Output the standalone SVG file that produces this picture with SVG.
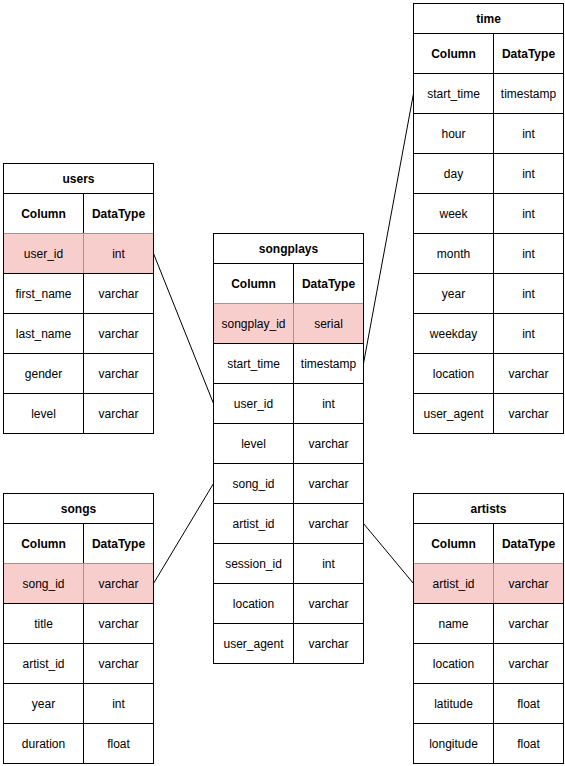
<svg xmlns="http://www.w3.org/2000/svg" width="565" height="766" viewBox="0 0 565 766">
<style>
rect{fill:#fff;stroke:#000;stroke-width:1}
rect.pk{fill:#f8cecc;stroke:#b0908e}
rect.ol{fill:none;stroke:#000}
text{font-family:"Liberation Sans",Arial,sans-serif;font-size:12px;text-anchor:middle;fill:#000}
text.b{font-weight:bold}
line{stroke:#000;stroke-width:1}
</style>
<rect x="0" y="0" width="565" height="766" style="fill:#fff;stroke:none"/>
<g id="connectors">
<line x1="153.5" y1="253.5" x2="213.5" y2="403.5"/>
<line x1="153.5" y1="583.5" x2="213.5" y2="483.5"/>
<line x1="363.5" y1="363.5" x2="413.5" y2="93.5"/>
<line x1="363.5" y1="523.5" x2="413.5" y2="583.5"/>
</g>
<g id="users" transform="translate(3.5,163.5)">
<rect x="0" y="0" width="150" height="30"/><text class="b" x="75" y="19">users</text>
<rect x="0" y="30" width="80" height="40"/><rect x="80" y="30" width="70" height="40"/>
<text class="b" x="40" y="54">Column</text><text class="b" x="115" y="54">DataType</text>
<rect class="pk" x="0" y="70" width="80" height="40"/><rect class="pk" x="80" y="70" width="70" height="40"/>
<text x="40" y="94">user_id</text><text x="115" y="94">int</text>
<rect x="0" y="110" width="80" height="40"/><rect x="80" y="110" width="70" height="40"/>
<text x="40" y="134">first_name</text><text x="115" y="134">varchar</text>
<rect x="0" y="150" width="80" height="40"/><rect x="80" y="150" width="70" height="40"/>
<text x="40" y="174">last_name</text><text x="115" y="174">varchar</text>
<rect x="0" y="190" width="80" height="40"/><rect x="80" y="190" width="70" height="40"/>
<text x="40" y="214">gender</text><text x="115" y="214">varchar</text>
<rect x="0" y="230" width="80" height="40"/><rect x="80" y="230" width="70" height="40"/>
<text x="40" y="254">level</text><text x="115" y="254">varchar</text>
<rect class="ol" x="0" y="0" width="150" height="270"/>
</g>
<g id="songplays" transform="translate(213.5,233.5)">
<rect x="0" y="0" width="150" height="30"/><text class="b" x="75" y="19">songplays</text>
<rect x="0" y="30" width="80" height="40"/><rect x="80" y="30" width="70" height="40"/>
<text class="b" x="40" y="54">Column</text><text class="b" x="115" y="54">DataType</text>
<rect class="pk" x="0" y="70" width="80" height="40"/><rect class="pk" x="80" y="70" width="70" height="40"/>
<text x="40" y="94">songplay_id</text><text x="115" y="94">serial</text>
<rect x="0" y="110" width="80" height="40"/><rect x="80" y="110" width="70" height="40"/>
<text x="40" y="134">start_time</text><text x="115" y="134">timestamp</text>
<rect x="0" y="150" width="80" height="40"/><rect x="80" y="150" width="70" height="40"/>
<text x="40" y="174">user_id</text><text x="115" y="174">int</text>
<rect x="0" y="190" width="80" height="40"/><rect x="80" y="190" width="70" height="40"/>
<text x="40" y="214">level</text><text x="115" y="214">varchar</text>
<rect x="0" y="230" width="80" height="40"/><rect x="80" y="230" width="70" height="40"/>
<text x="40" y="254">song_id</text><text x="115" y="254">varchar</text>
<rect x="0" y="270" width="80" height="40"/><rect x="80" y="270" width="70" height="40"/>
<text x="40" y="294">artist_id</text><text x="115" y="294">varchar</text>
<rect x="0" y="310" width="80" height="40"/><rect x="80" y="310" width="70" height="40"/>
<text x="40" y="334">session_id</text><text x="115" y="334">int</text>
<rect x="0" y="350" width="80" height="40"/><rect x="80" y="350" width="70" height="40"/>
<text x="40" y="374">location</text><text x="115" y="374">varchar</text>
<rect x="0" y="390" width="80" height="40"/><rect x="80" y="390" width="70" height="40"/>
<text x="40" y="414">user_agent</text><text x="115" y="414">varchar</text>
<rect class="ol" x="0" y="0" width="150" height="430"/>
</g>
<g id="time" transform="translate(413.5,3.5)">
<rect x="0" y="0" width="150" height="30"/><text class="b" x="75" y="19">time</text>
<rect x="0" y="30" width="80" height="40"/><rect x="80" y="30" width="70" height="40"/>
<text class="b" x="40" y="54">Column</text><text class="b" x="115" y="54">DataType</text>
<rect x="0" y="70" width="80" height="40"/><rect x="80" y="70" width="70" height="40"/>
<text x="40" y="94">start_time</text><text x="115" y="94">timestamp</text>
<rect x="0" y="110" width="80" height="40"/><rect x="80" y="110" width="70" height="40"/>
<text x="40" y="134">hour</text><text x="115" y="134">int</text>
<rect x="0" y="150" width="80" height="40"/><rect x="80" y="150" width="70" height="40"/>
<text x="40" y="174">day</text><text x="115" y="174">int</text>
<rect x="0" y="190" width="80" height="40"/><rect x="80" y="190" width="70" height="40"/>
<text x="40" y="214">week</text><text x="115" y="214">int</text>
<rect x="0" y="230" width="80" height="40"/><rect x="80" y="230" width="70" height="40"/>
<text x="40" y="254">month</text><text x="115" y="254">int</text>
<rect x="0" y="270" width="80" height="40"/><rect x="80" y="270" width="70" height="40"/>
<text x="40" y="294">year</text><text x="115" y="294">int</text>
<rect x="0" y="310" width="80" height="40"/><rect x="80" y="310" width="70" height="40"/>
<text x="40" y="334">weekday</text><text x="115" y="334">int</text>
<rect x="0" y="350" width="80" height="40"/><rect x="80" y="350" width="70" height="40"/>
<text x="40" y="374">location</text><text x="115" y="374">varchar</text>
<rect x="0" y="390" width="80" height="40"/><rect x="80" y="390" width="70" height="40"/>
<text x="40" y="414">user_agent</text><text x="115" y="414">varchar</text>
<rect class="ol" x="0" y="0" width="150" height="430"/>
</g>
<g id="songs" transform="translate(3.5,493.5)">
<rect x="0" y="0" width="150" height="30"/><text class="b" x="75" y="19">songs</text>
<rect x="0" y="30" width="80" height="40"/><rect x="80" y="30" width="70" height="40"/>
<text class="b" x="40" y="54">Column</text><text class="b" x="115" y="54">DataType</text>
<rect class="pk" x="0" y="70" width="80" height="40"/><rect class="pk" x="80" y="70" width="70" height="40"/>
<text x="40" y="94">song_id</text><text x="115" y="94">varchar</text>
<rect x="0" y="110" width="80" height="40"/><rect x="80" y="110" width="70" height="40"/>
<text x="40" y="134">title</text><text x="115" y="134">varchar</text>
<rect x="0" y="150" width="80" height="40"/><rect x="80" y="150" width="70" height="40"/>
<text x="40" y="174">artist_id</text><text x="115" y="174">varchar</text>
<rect x="0" y="190" width="80" height="40"/><rect x="80" y="190" width="70" height="40"/>
<text x="40" y="214">year</text><text x="115" y="214">int</text>
<rect x="0" y="230" width="80" height="40"/><rect x="80" y="230" width="70" height="40"/>
<text x="40" y="254">duration</text><text x="115" y="254">float</text>
<rect class="ol" x="0" y="0" width="150" height="270"/>
</g>
<g id="artists" transform="translate(413.5,493.5)">
<rect x="0" y="0" width="150" height="30"/><text class="b" x="75" y="19">artists</text>
<rect x="0" y="30" width="80" height="40"/><rect x="80" y="30" width="70" height="40"/>
<text class="b" x="40" y="54">Column</text><text class="b" x="115" y="54">DataType</text>
<rect class="pk" x="0" y="70" width="80" height="40"/><rect class="pk" x="80" y="70" width="70" height="40"/>
<text x="40" y="94">artist_id</text><text x="115" y="94">varchar</text>
<rect x="0" y="110" width="80" height="40"/><rect x="80" y="110" width="70" height="40"/>
<text x="40" y="134">name</text><text x="115" y="134">varchar</text>
<rect x="0" y="150" width="80" height="40"/><rect x="80" y="150" width="70" height="40"/>
<text x="40" y="174">location</text><text x="115" y="174">varchar</text>
<rect x="0" y="190" width="80" height="40"/><rect x="80" y="190" width="70" height="40"/>
<text x="40" y="214">latitude</text><text x="115" y="214">float</text>
<rect x="0" y="230" width="80" height="40"/><rect x="80" y="230" width="70" height="40"/>
<text x="40" y="254">longitude</text><text x="115" y="254">float</text>
<rect class="ol" x="0" y="0" width="150" height="270"/>
</g>
</svg>
